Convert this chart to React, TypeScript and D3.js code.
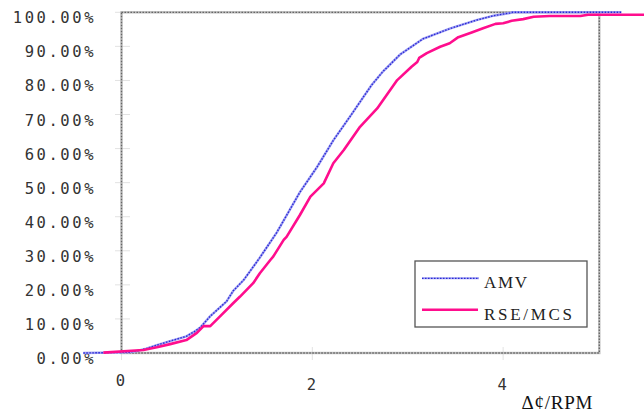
import React from "react";
import * as d3 from "d3";

// Cumulative distributions of Δ¢/RPM for the two methods (x value, cumulative %)
const amvX = [-0.4, 0.08, 0.16, 0.26, 0.37, 0.51, 0.68, 0.76, 0.83, 0.93, 1.1, 1.17, 1.28, 1.45, 1.63, 1.87, 2.05, 2.22, 2.4, 2.62, 2.74, 2.92, 3.16, 3.44, 3.72, 3.9, 4.07, 4.1, 5.24];
const amvY = [0, 0.2, 0.6, 1.3, 2.3, 3.5, 4.9, 6.2, 7.6, 10.8, 15.1, 18.2, 21.4, 28.0, 35.5, 47.2, 54.6, 62.4, 69.6, 78.6, 82.6, 87.6, 92.2, 95.2, 97.7, 99.0, 99.8, 100, 100];

const rseX = [-0.19, 0.23, 0.37, 0.51, 0.68, 0.79, 0.86, 0.93, 1.03, 1.17, 1.24, 1.38, 1.45, 1.56, 1.59, 1.7, 1.73, 1.87, 1.98, 2.12, 2.22, 2.33, 2.5, 2.68, 2.89, 3.04, 3.1, 3.12, 3.2, 3.34, 3.44, 3.53, 3.67, 3.79, 3.92, 4.0, 4.09, 4.21, 4.32, 4.49, 4.81, 4.89, 5.48];
const rseY = [0.1, 0.9, 1.7, 2.6, 3.8, 5.9, 7.9, 7.9, 10.7, 14.6, 16.5, 20.5, 23.4, 27.3, 28.3, 33.2, 34.1, 40.5, 45.9, 49.8, 55.7, 59.6, 66.4, 71.8, 80.1, 84.0, 85.4, 86.6, 88.0, 89.9, 90.9, 92.7, 94.1, 95.3, 96.6, 96.8, 97.5, 98.0, 98.7, 98.9, 98.9, 99.3, 99.3];

const xTicks = [0, 2, 4];
const yTicks = [0, 10, 20, 30, 40, 50, 60, 70, 80, 90, 100];
const seriesNames = ["AMV", "RSE/MCS"];
const xTitle = "Δ¢/RPM";

const W = 644;
const H = 413;
const plot = { left: 121.5, right: 599.3, top: 12.3, bottom: 353 };

// monospace label cell width (glyph + tracking)
const CELL = 11.9;

export default function App() {
  const x = d3.scaleLinear().domain([0, 5.008]).range([plot.left, plot.right]);
  const y = d3.scaleLinear().domain([0, 100]).range([plot.bottom, plot.top]);
  const line = d3
    .line<[number, number]>()
    .x((d) => x(d[0]))
    .y((d) => y(d[1]));

  const amv = amvX.map((v, i) => [v, amvY[i]] as [number, number]);
  const rse = rseX.map((v, i) => [v, rseY[i]] as [number, number]);

  const monoFont = "'DejaVu Sans Mono', monospace";
  const serifFont = "'Liberation Serif', 'Times New Roman', serif";

  const legendX = 415;
  const legendY = 261;

  return (
    <svg
      width={W}
      height={H}
      style={{ position: "absolute", left: 0, top: 0, background: "#fff" }}
    >
      {/* tick marks crossing the axes */}
      {yTicks.map((t) => (
        <line key={"yt" + t} x1={115} x2={130} y1={y(t)} y2={y(t)} stroke="#e2e2e2" strokeWidth={1} />
      ))}
      {xTicks.map((t) => (
        <line key={"xt" + t} x1={x(t)} x2={x(t)} y1={347} y2={360} stroke="#e2e2e2" strokeWidth={1} />
      ))}

      {/* plot frame */}
      <rect
        x={plot.left}
        y={plot.top}
        width={plot.right - plot.left}
        height={plot.bottom - plot.top}
        fill="none"
        stroke="#bdbdbd"
        strokeWidth={2.4}
      />
      <rect
        x={plot.left}
        y={plot.top}
        width={plot.right - plot.left}
        height={plot.bottom - plot.top}
        fill="none"
        stroke="#666"
        strokeWidth={1.3}
        strokeDasharray="1.5 1.5"
      />

      {/* y tick labels */}
      {yTicks.map((t) => {
        const label = t.toFixed(2) + "%";
        return (
          <text
            key={"yl" + t}
            x={93.5}
            y={y(t) + 11}
            textAnchor="end"
            fontFamily={monoFont}
            fontSize={15.5}
            textLength={label.length * CELL - 2.6}
            lengthAdjust="spacing"
            fill="#333"
          >
            {label}
          </text>
        );
      })}

      {/* x tick labels */}
      {xTicks.map((t) => (
        <text
          key={"xl" + t}
          x={x(t) - 1}
          y={t === 0 ? 386 : 390}
          textAnchor="middle"
          fontFamily={monoFont}
          fontSize={15.5}
          fill="#333"
        >
          {t}
        </text>
      ))}

      <text x={521.5} y={409} fontFamily={serifFont} fontSize={19} textLength={71} lengthAdjust="spacing" fill="#111">
        {xTitle}
      </text>

      {/* AMV: dotted blue */}
      <path d={line(amv) ?? ""} fill="none" stroke="#a0a0f2" strokeWidth={2.4} />
      <path d={line(amv) ?? ""} fill="none" stroke="#2a2ad6" strokeWidth={1.4} strokeDasharray="1.5 1.5" />

      {/* RSE/MCS: solid magenta */}
      <path d={line(rse) ?? ""} fill="none" stroke="#ff0d8d" strokeWidth={2.6} strokeLinejoin="round" />

      {/* legend */}
      <rect x={legendX} y={legendY} width={172} height={66} fill="#fff" stroke="#555" strokeWidth={1.3} />
      <line x1={422} x2={479} y1={278.3} y2={278.3} stroke="#a0a0f2" strokeWidth={2} />
      <line x1={422} x2={479} y1={278.3} y2={278.3} stroke="#2a2ad6" strokeWidth={1.2} strokeDasharray="1.5 1.5" />
      <line x1={422} x2={478} y1={309.7} y2={309.7} stroke="#ff0d8d" strokeWidth={2.6} />
      <text x={484} y={288} fontFamily={serifFont} fontSize={17} textLength={43} lengthAdjust="spacing" fill="#222">
        {seriesNames[0]}
      </text>
      <text x={484} y={320} fontFamily={serifFont} fontSize={17} textLength={88} lengthAdjust="spacing" fill="#222">
        {seriesNames[1]}
      </text>
    </svg>
  );
}
